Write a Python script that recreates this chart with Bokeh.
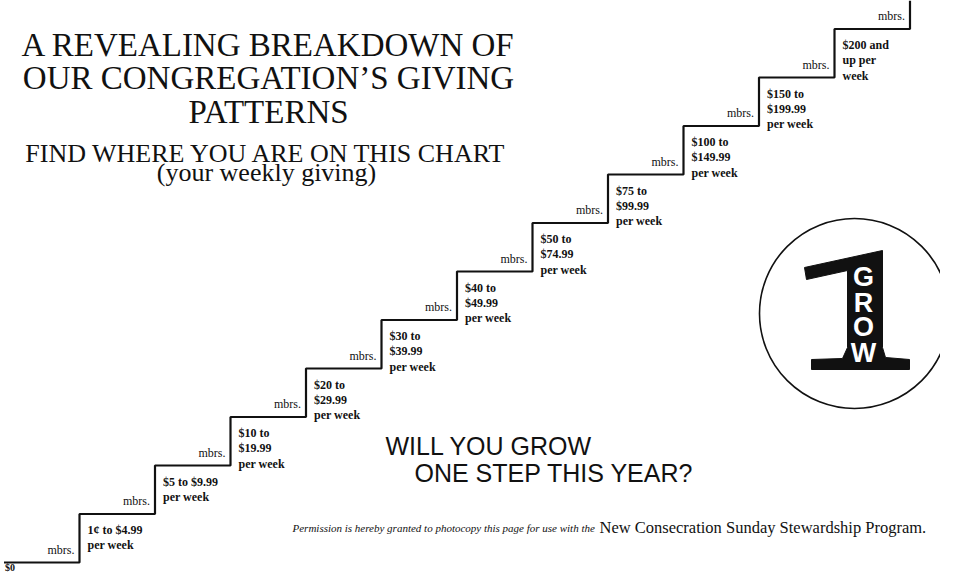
from bokeh.plotting import figure
from bokeh.models import Range1d, Label, ColumnDataSource
from bokeh.core.properties import value
from bokeh.embed import file_html
from bokeh.resources import INLINE

# ---------------- data ----------------
FLOOR_LABEL = "$0"
BRACKETS = [
    "1¢ to $4.99\nper week",
    "$5 to $9.99\nper week",
    "$10 to\n$19.99\nper week",
    "$20 to\n$29.99\nper week",
    "$30 to\n$39.99\nper week",
    "$40 to\n$49.99\nper week",
    "$50 to\n$74.99\nper week",
    "$75 to\n$99.99\nper week",
    "$100 to\n$149.99\nper week",
    "$150 to\n$199.99\nper week",
    "$200 and\nup per\nweek",
]
MEMBER_LABEL = "mbrs."
RISERS = list(range(1, len(BRACKETS) + 2))        # 1..12
TREAD_LEVELS = list(range(0, len(BRACKETS) + 1))  # 0..11

TITLE_LINES = ["A REVEALING BREAKDOWN OF", "OUR CONGREGATION\u2019S GIVING", "PATTERNS"]
SUBTITLE_LINES = ["FIND WHERE YOU ARE ON THIS CHART", "(your weekly giving)"]
SLOGAN_LINES = ["WILL YOU GROW", "ONE STEP THIS YEAR?"]
PERMISSION_ITALIC = "Permission is hereby granted to photocopy this page for use with the"
PERMISSION_UPRIGHT = "New Consecration Sunday Stewardship Program."
LOGO_LETTERS = ["G", "R", "O", "W"]

# ---------------- layout ----------------
W, H = 940, 572
SX, SY = 75.5, 48.5          # px per step (x) and per level (y)
X0, Y0 = 3.5, 562.0          # canvas px of step 0 / level 0
x_range = Range1d(-X0 / SX, (W - X0) / SX)
y_range = Range1d((Y0 - H) / SY, Y0 / SY)
TOP = y_range.end

SERIF = "Liberation Serif"
SANS = "Liberation Sans"
INK = "#111111"

p = figure(width=W, height=H, x_range=x_range, y_range=y_range,
           output_backend="svg", toolbar_location=None, title=None,
           x_axis_location=None, y_axis_location=None, min_border=0,
           background_fill_color="white", border_fill_color="white")
p.xgrid.visible = False
p.ygrid.visible = False
p.outline_line_color = None

# staircase
step_x = [0] + RISERS
step_y = TREAD_LEVELS + [TOP]
p.step(step_x, step_y, mode="after", line_color=INK, line_width=2.2)

# member labels (left of each riser, above the tread)
mem_src = ColumnDataSource(dict(x=RISERS, y=TREAD_LEVELS,
                                t=[MEMBER_LABEL] * len(RISERS)))
p.text(x="x", y="y", text="t", source=mem_src, x_offset=-5, y_offset=-13,
       text_align="right", text_baseline="middle",
       text_font=value(SERIF), text_font_size="12px", text_color=INK)

# bracket labels (right of each riser, below the tread)
br_src = ColumnDataSource(dict(x=RISERS[:-1], y=TREAD_LEVELS[1:], t=BRACKETS))
p.text(x="x", y="y", text="t", source=br_src, x_offset=8, y_offset=9,
       text_align="left", text_baseline="top", text_line_height=1.1,
       text_font=value(SERIF), text_font_size="12px", text_font_style="bold",
       text_color=INK)

# $0
p.text(x=[0], y=[TREAD_LEVELS[0]], text=[FLOOR_LABEL], x_offset=1, y_offset=10,
       text_align="left", text_baseline="bottom",
       text_font=value(SERIF), text_font_size="10px", text_font_style="bold",
       text_color=INK)

# ---------------- texts ----------------
def add_label(txt, sx, sy, size, font=SERIF, align="center", style="normal"):
    p.add_layout(Label(x=sx, y=sy, x_units="screen", y_units="screen", text=txt,
                       text_align=align, text_baseline="alphabetic",
                       text_font=font, text_font_size=size, text_font_style=style,
                       text_color=INK))

for txt, base in zip(TITLE_LINES, [52, 85, 119]):
    add_label(txt, 268, 580 - base, "33px")
for txt, base in zip(SUBTITLE_LINES, [161, 180]):
    add_label(txt, 266, 580 - base, "26px")
add_label(SLOGAN_LINES[0], 385, 580 - 453, "25px", font=SANS, align="left")
add_label(SLOGAN_LINES[1], 414, 580 - 480, "25px", font=SANS, align="left")
add_label(PERMISSION_ITALIC, 292, 580 - 535, "11px", align="left", style="italic")
add_label(PERMISSION_UPRIGHT, 599, 580 - 535, "16.5px", align="left")

# ---------------- logo ----------------
LOGO_X = (854 - X0) / SX
LOGO_Y = (Y0 - 313) / SY

def lx(dx):
    return LOGO_X + dx / SX

def ly(dy):
    return LOGO_Y - dy / SY

p.scatter(x=[LOGO_X], y=[LOGO_Y], marker="circle", size=190,
          fill_color=None, line_color=INK, line_width=1.6)

one_dx = [-50, 28, 28, 31, 55, 55, -43, -43, -12, -7, -7, -48]
one_dy = [-46, -63, 34, 44, 46, 56, 56, 46, 45, 34, -43, -34]
p.patch([lx(d) for d in one_dx], [ly(d) for d in one_dy],
        fill_color=INK, line_color=INK, line_width=1)

p.text(x=[lx(9)] * 4, y=[ly(d) for d in [-37, -11, 13, 39]], text=LOGO_LETTERS,
       text_align="center", text_baseline="middle",
       text_font=value(SANS), text_font_size="27px", text_font_style="bold",
       text_color="white")

open("out.html", "w").write(file_html(p, INLINE))
